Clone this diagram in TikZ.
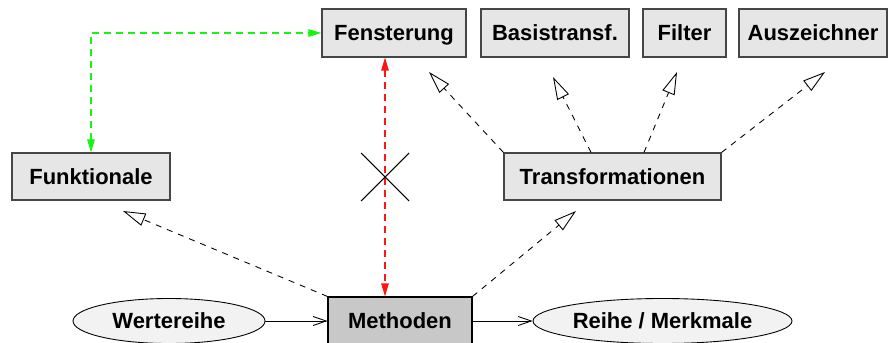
\documentclass[tikz,border=0pt]{standalone}
\usepackage{fontspec}
\setmainfont{Liberation Sans}
\usetikzlibrary{arrows.meta,positioning,calc,shapes.geometric}
\definecolor{FmBorder}{RGB}{70,70,70}
\definecolor{FmBox}{RGB}{230,230,230}
\definecolor{FmCore}{RGB}{200,200,200}
\definecolor{FmData}{RGB}{242,242,242}
\definecolor{FmGreen}{RGB}{20,245,20}
\definecolor{FmRed}{RGB}{255,20,20}
\tikzset{
  fm/box/.style={
    draw=FmBorder,
    line width=0.6pt,
    fill=FmBox,
    align=center,
    text=black,
    minimum height=0.96cm,
    inner sep=0pt,
    text height=0.9em,
    text depth=0pt,
    font=\fontsize{12.5}{15}\selectfont\bfseries
  },
  fm/core/.style={fm/box, fill=FmCore, draw=black},
  fm/data/.style={
    ellipse,
    draw=black,
    line width=0.5pt,
    fill=FmData,
    align=center,
    inner sep=0pt,
    text height=0.9em,
    text depth=0pt,
    minimum height=0.9cm,
    font=\fontsize{12.5}{15}\selectfont\bfseries
  },
  fm/flow/.style={-{Straight Barb[length=2.6mm,width=1.8mm]}, line width=0.5pt, draw=black},
  fm/uses/.style={-{Triangle[length=4.5mm,width=2.6mm,fill=white]}, line width=0.5pt,
    draw=black, dash pattern=on 1.2mm off 1.2mm},
  fm/link/.style={{Triangle[length=2.6mm,width=1.5mm]}-{Triangle[length=2.6mm,width=1.5mm]},
    line width=0.6pt, dash pattern=on 1.4mm off 1.0mm},
  fm/cross/.style={line width=0.6pt, draw=black}
}

\begin{document}
\begin{tikzpicture}[x=1cm,y=1cm]
  \useasboundingbox (0,0) rectangle (17.76,6.84);
  \node[fm/box,minimum width=2.88cm] (fenster) at (7.88,6.18) {Fensterung};
  \node[fm/box,minimum width=2.96cm] (basis) at (11.10,6.18) {Basistransf.};
  \node[fm/box,minimum width=1.66cm] (filter) at (13.69,6.18) {Filter};
  \node[fm/box,minimum width=2.96cm] (auszeichner) at (16.26,6.18) {Auszeichner};
  \node[fm/box,minimum width=3.16cm,minimum height=0.94cm] (funktionale) at (1.82,3.31) {Funktionale};
  \node[fm/box,minimum width=4.34cm,minimum height=0.94cm] (trafo) at (12.25,3.31) {Transformationen};
  \node[fm/core,minimum width=2.88cm] (methoden) at (8.00,0.42) {Methoden};
  \node[fm/data,minimum width=3.84cm] (werte) at (3.38,0.42) {Wertereihe};
  \node[fm/data,minimum width=5.18cm] (reihe) at (13.25,0.42) {Reihe / Merkmale};
  \coordinate (cross) at (7.70,3.30);
  \coordinate (funktionale-in) at (2.46,2.62);
  \coordinate (trafo-in) at (11.52,2.62);
  \coordinate (fenster-in) at (8.58,5.40);
  \coordinate (basis-in) at (11.06,5.30);
  \coordinate (filter-in) at (13.54,5.40);
  \coordinate (auszeichner-in) at (16.50,5.40);
  \draw[fm/flow] (werte) -- (methoden);
  \draw[fm/flow] (methoden) -- (reihe);
  \draw[fm/uses] (methoden.north west) -- (funktionale-in);
  \draw[fm/uses] (methoden.north east) -- (trafo-in);
  \draw[fm/uses] (trafo.north west) -- (fenster-in);
  \draw[fm/uses] ($(trafo.north)+(-0.43,0)$) -- (basis-in);
  \draw[fm/uses] ($(trafo.north)+(0.63,0)$) -- (filter-in);
  \draw[fm/uses] (trafo.north east) -- (auszeichner-in);
  \draw[fm/link,draw=FmGreen] (funktionale.north) |- (fenster.west);
  \draw[fm/link,draw=FmRed] (fenster.south -| cross) -- (methoden.north -| cross);
  \draw[fm/cross] (cross) +(-0.48,0.48) -- +(0.48,-0.48);
  \draw[fm/cross] (cross) +(-0.48,-0.48) -- +(0.48,0.48);
\end{tikzpicture}
\end{document}
